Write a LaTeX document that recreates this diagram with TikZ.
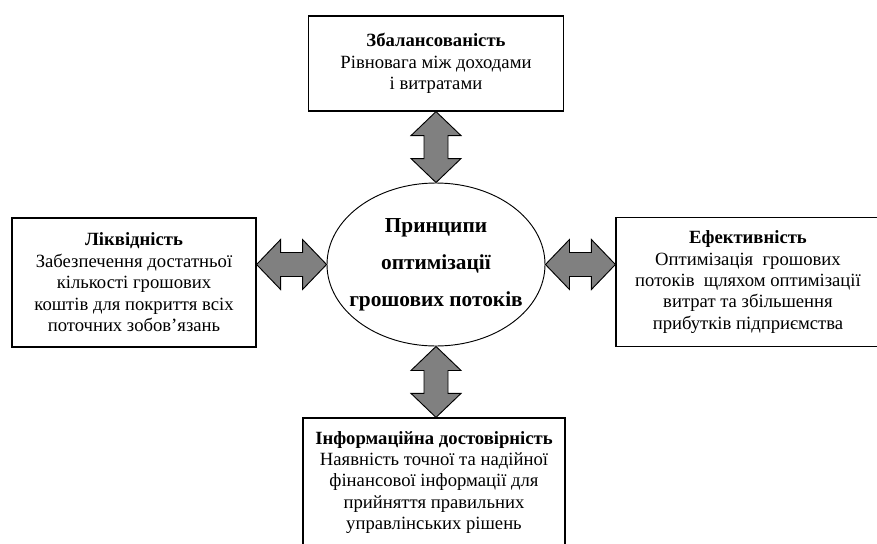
\documentclass[tikz,border=0pt]{standalone}
\usepackage{fontspec}
\setmainfont{LiberationSerif}[Extension=.ttf, UprightFont=*-Regular, BoldFont=*-Bold, ItalicFont=*-Italic, BoldItalicFont=*-BoldItalic]
\usetikzlibrary{shapes.geometric,calc}
\definecolor{arrowgray}{RGB}{128,128,128}
\newcommand{\headlen}{18pt}
\newcommand{\headwid}{18.75pt}
\newcommand{\shaftwid}{9pt}
\newcommand{\twoway}[2]{%
  \draw[twoway] (#1)
    -- ($(#1)!\headlen!(#2)!\headwid!90:(#2)$)
    -- ($(#1)!\headlen!(#2)!\shaftwid!90:(#2)$)
    -- ($(#2)!\headlen!(#1)!\shaftwid!-90:(#1)$)
    -- ($(#2)!\headlen!(#1)!\headwid!-90:(#1)$)
    -- (#2)
    -- ($(#2)!\headlen!(#1)!\headwid!90:(#1)$)
    -- ($(#2)!\headlen!(#1)!\shaftwid!90:(#1)$)
    -- ($(#1)!\headlen!(#2)!\shaftwid!-90:(#2)$)
    -- ($(#1)!\headlen!(#2)!\headwid!-90:(#2)$)
    -- cycle;}
\tikzset{
  criterion/.style={draw, line width=0.9pt, align=center, inner sep=0pt,
    minimum height=96.75pt, font=\fontsize{14}{16.1}\selectfont},
  principle/.style={draw, ellipse, line width=0.7pt, inner sep=0pt,
    minimum width=163.5pt, minimum height=122.25pt},
  twoway/.style={draw, line width=0.7pt, fill=arrowgray, line join=miter}
}
\begin{document}
\begin{tikzpicture}[x=0.75pt,y=-0.75pt]
  \useasboundingbox (0,0) rectangle (877,543);
  \node[principle, label={[align=center, font=\bfseries\fontsize{16}{27.6}\selectfont]center:{Принципи\\оптимізації\\грошових потоків}}] (ell) at (436,264.5) {};
  \node[criterion, minimum width=191.25pt, minimum height=71.25pt] (top) at (436,63.5)
    {\textbf{Збалансованість}\\Рівновага між доходами\\і витратами};
  \node[criterion, minimum width=183pt] (left) at (134,282.5)
    {\textbf{Ліквідність}\\Забезпечення достатньої\\кількості грошових\\коштів для покриття всіх\\поточних зобов’язань};
  \node[criterion, minimum width=198pt] (right) at (748,282)
    {\textbf{Ефективність}\\Оптимізація~ грошових\\потоків~ щляхом оптимізації\\витрат та збільшення\\прибутків підприємства};
  \node[criterion, minimum width=196.5pt] (bottom) at (434,482.5)
    {\textbf{Інформаційна достовірність}\\Наявність точної та надійної\\фінансової інформації для\\прийняття правильних\\управлінських рішень};
  \coordinate (topend) at (ell.north |- top.south);
  \coordinate (leftend) at (left.east |- ell.west);
  \coordinate (rightend) at (right.west |- ell.east);
  \coordinate (botend) at (ell.south |- bottom.north);
  \twoway{topend}{ell.north}
  \twoway{leftend}{ell.west}
  \twoway{ell.east}{rightend}
  \twoway{ell.south}{botend}
\end{tikzpicture}
\end{document}
